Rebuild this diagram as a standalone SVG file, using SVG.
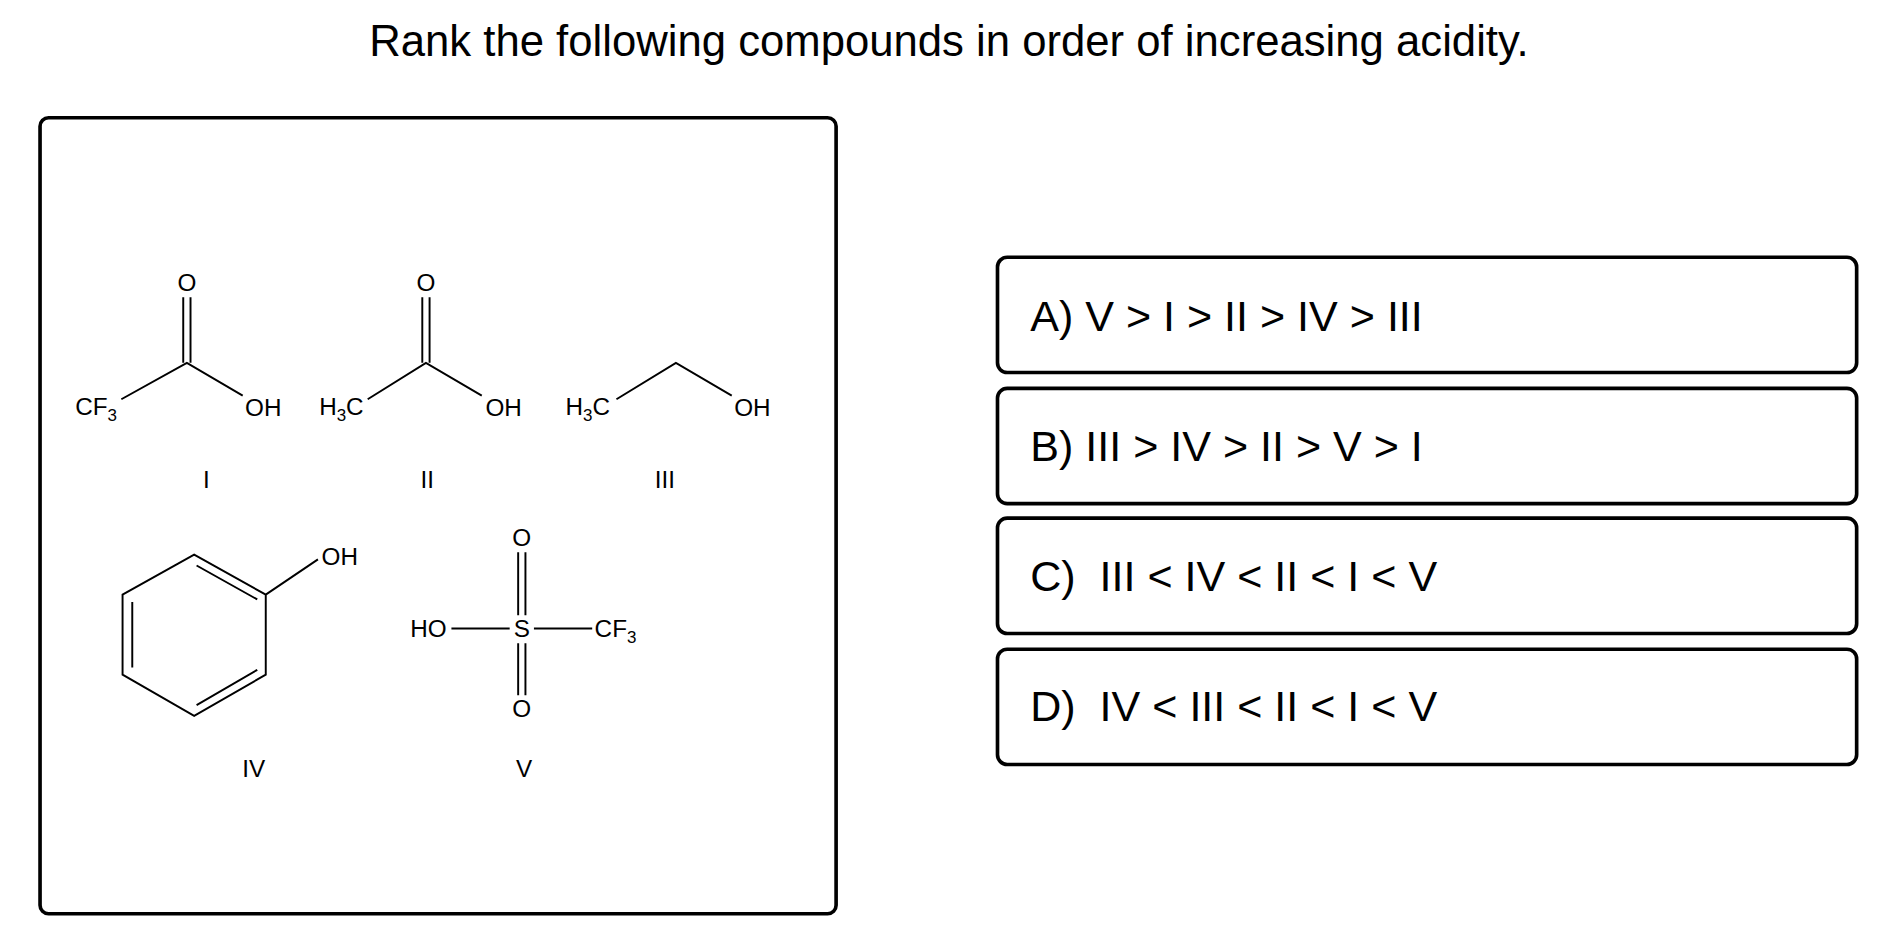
<svg xmlns="http://www.w3.org/2000/svg" width="1902" height="946" viewBox="0 0 1902 946">
<style>
text{font-family:"Liberation Sans",Arial,sans-serif;fill:#000}
.m{font-size:20px}
.s{font-size:14px}
.o{font-size:35.5px;white-space:pre}
.b{stroke:#000;stroke-width:1.6;fill:none}
.box{fill:#fff;stroke:#000;stroke-width:3}
</style>
<rect width="1902" height="946" fill="#fff"/>
<g transform="scale(1.2135)">
<text x="782" y="46" font-size="36" text-anchor="middle">Rank the following compounds in order of increasing acidity.</text>
<rect class="box" x="33" y="97" width="656" height="656" rx="7"/>
<g id="optA"><rect class="box" x="822" y="212" width="708" height="95" rx="8"/><text class="o" x="849" y="273">A) V &gt; I &gt; II &gt; IV &gt; III</text></g>
<g id="optB"><rect class="box" x="822" y="320" width="708" height="95" rx="8"/><text class="o" x="849" y="380">B) III &gt; IV &gt; II &gt; V &gt; I</text></g>
<g id="optC"><rect class="box" x="822" y="427" width="708" height="95" rx="8"/><text class="o" x="849" y="487">C)  III &lt; IV &lt; II &lt; I &lt; V</text></g>
<g id="optD"><rect class="box" x="822" y="535" width="708" height="95" rx="8"/><text class="o" x="849" y="594">D)  IV &lt; III &lt; II &lt; I &lt; V</text></g>
<g id="cmpI">
<path class="b" d="M100,329L154,299L200,326M151,299V245M157,299V245"/>
<text class="m" x="154" y="240" text-anchor="middle">O</text>
<text class="m" x="62" y="342">CF<tspan class="s" dy="5">3</tspan></text>
<text class="m" x="202" y="343">OH</text>
<text class="m" x="170" y="402" text-anchor="middle">I</text>
</g>
<g id="cmpII">
<path class="b" d="M303,329L351,299L397,326M348,299V245M354,299V245"/>
<text class="m" x="351" y="240" text-anchor="middle">O</text>
<text class="m" x="263" y="342">H<tspan class="s" dy="5">3</tspan><tspan dy="-5">C</tspan></text>
<text class="m" x="400" y="343">OH</text>
<text class="m" x="352" y="402" text-anchor="middle">II</text>
</g>
<g id="cmpIII">
<path class="b" d="M508,329L557,299L603,326"/>
<text class="m" x="466" y="342">H<tspan class="s" dy="5">3</tspan><tspan dy="-5">C</tspan></text>
<text class="m" x="605" y="343">OH</text>
<text class="m" x="548" y="402" text-anchor="middle">III</text>
</g>
<g id="cmpIV">
<path class="b" d="M160,457L219,490L219,556L160,590L101,556L101,490Z M219,490L262,461 M109,496V550 M162,466L212,494 M162,581L212,552"/>
<text class="m" x="265" y="466">OH</text>
<text class="m" x="209" y="640" text-anchor="middle">IV</text>
</g>
<g id="cmpV">
<path class="b" d="M372,518H420M440,518H488M427,455V507M433,455V507M427,530V573M433,530V573"/>
<text class="m" x="430" y="450" text-anchor="middle">O</text>
<text class="m" x="430" y="525" text-anchor="middle">S</text>
<text class="m" x="430" y="591" text-anchor="middle">O</text>
<text class="m" x="338" y="525">HO</text>
<text class="m" x="490" y="525">CF<tspan class="s" dy="5">3</tspan></text>
<text class="m" x="432" y="640" text-anchor="middle">V</text>
</g>
</g>
</svg>
